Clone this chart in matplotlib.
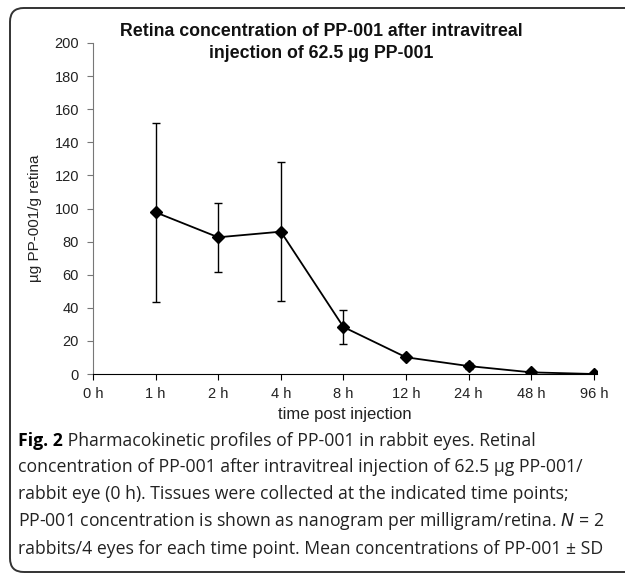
import matplotlib
matplotlib.use("Agg")
import matplotlib.pyplot as plt
from matplotlib.patches import FancyBboxPatch

# time points (categorical) and mean retina concentration +/- SD
times = ["0 h", "1 h", "2 h", "4 h", "8 h", "12 h", "24 h", "48 h", "96 h"]
sample_times = ["1 h", "2 h", "4 h", "8 h", "12 h", "24 h", "48 h", "96 h"]
conc_mean = [97.7, 82.6, 86.0, 28.4, 10.1, 4.8, 1.0, 0.0]
conc_sd = [54.0, 21.0, 42.0, 10.3, 0.8, 1.8, 0.5, 0.0]

caption_bold = "Fig. 2"
caption_lines = [
    " Pharmacokinetic profiles of PP-001 in rabbit eyes. Retinal",
    "concentration of PP-001 after intravitreal injection of 62.5 \u00b5g PP-001/",
    "rabbit eye (0 h). Tissues were collected at the indicated time points;",
    "PP-001 concentration is shown as nanogram per milligram/retina. $N$ = 2",
    "rabbits/4 eyes for each time point. Mean concentrations of PP-001 \u00b1 SD",
]

W, H = 625, 576
fig = plt.figure(figsize=(W / 100, H / 100), dpi=100)

# rounded frame (runs off the right edge like the scan)
frame = FancyBboxPatch((10 / W, 1 - 572 / H), 640 / W, (572 - 8) / H,
                       boxstyle="round,pad=0,rounding_size=0.022",
                       mutation_aspect=W / H,
                       transform=fig.transFigure, fill=False,
                       edgecolor="#333333", linewidth=1.4, clip_on=False)
fig.patches.append(frame)

ax = fig.add_axes([93 / W, 202 / H, 504 / W, 331 / H])
xpos = [times.index(t) for t in sample_times]
ax.errorbar(xpos, conc_mean, yerr=conc_sd, color="black", linewidth=1.3,
            marker="D", markersize=6, elinewidth=1.0, capsize=3, capthick=1.0)

ax.set_xlim(0, 8.05)
ax.set_ylim(0, 200)
ax.set_xticks(range(len(times)))
ax.set_xticklabels(times)
ax.set_yticks(range(0, 201, 20))
for s in ["top", "right"]:
    ax.spines[s].set_visible(False)
ax.spines["left"].set_color("#777777")
ax.spines["bottom"].set_color("black")
ax.tick_params(axis="both", labelsize=10.5, length=4, width=0.8,
               labelcolor="#222222")
ax.tick_params(axis="x", pad=5)
ax.tick_params(axis="y", color="#777777", pad=6)
for lab in ax.get_xticklabels() + ax.get_yticklabels():
    lab.set_fontfamily("Liberation Sans")

ax.set_ylabel("\u00b5g PP-001/g retina", fontsize=11, family="Liberation Sans",
              color="#222222")
ax.yaxis.set_label_coords(-0.101, 0.47)
ax.set_xlabel("time post injection", fontsize=12, family="Liberation Sans",
              labelpad=5, color="#222222")

fig.text(321 / W, 1 - 31 / H, "Retina concentration of PP-001 after intravitreal",
         ha="center", va="center", fontsize=12.8, fontweight="bold",
         family="Liberation Sans", color="#111111")
fig.text(321 / W, 1 - 53 / H, "injection of 62.5 \u00b5g PP-001",
         ha="center", va="center", fontsize=12.8, fontweight="bold",
         family="Liberation Sans", color="#111111")

# caption
cap_y = [441, 467, 494, 521, 549]
fig.canvas.draw()
r = fig.canvas.get_renderer()
t0 = fig.text(18 / W, 1 - cap_y[0] / H, caption_bold, ha="left", va="center",
              fontsize=12.7, fontweight="bold", family="Open Sans")
bb = t0.get_window_extent(renderer=r)
fig.text(bb.x1 / W, 1 - cap_y[0] / H, caption_lines[0], ha="left", va="center",
         fontsize=12.7, family="Open Sans", color="#222222")
for line, y in zip(caption_lines[1:], cap_y[1:]):
    fig.text(18 / W, 1 - y / H, line, ha="left", va="center",
             fontsize=12.7, family="Open Sans", color="#222222")

fig.savefig("out.png", dpi=100)
